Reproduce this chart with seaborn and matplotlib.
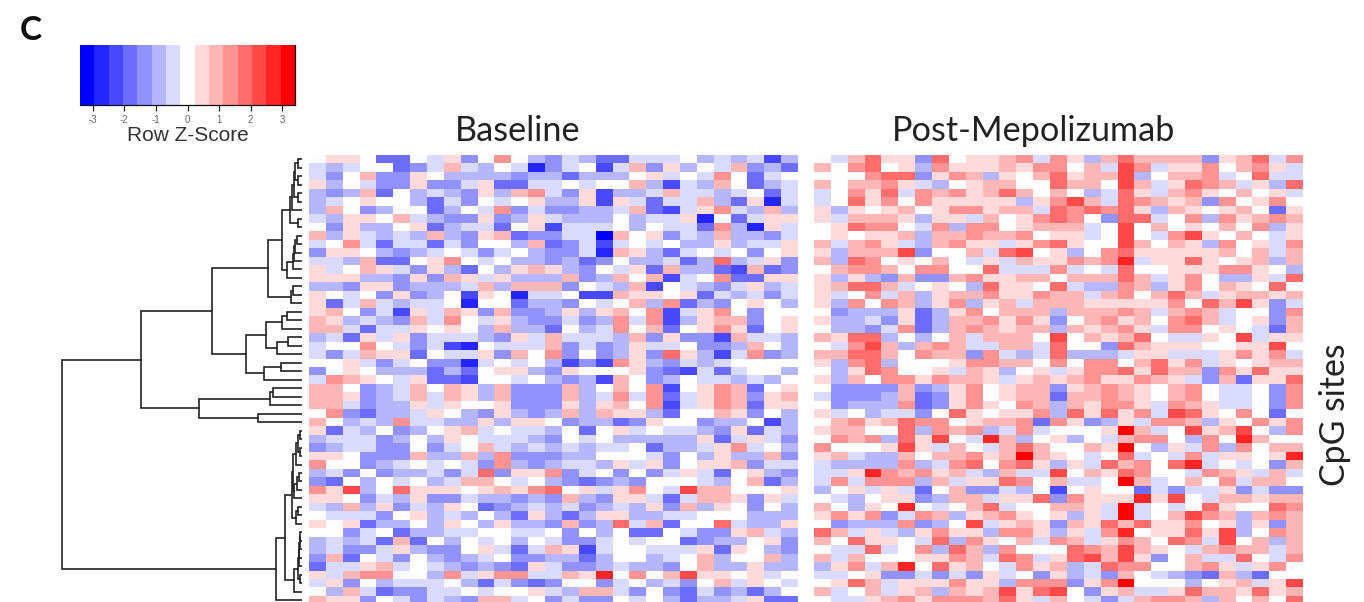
import matplotlib
matplotlib.use('Agg')
import matplotlib.pyplot as plt
import numpy as np
import seaborn as sns

# colour level of each cell, -7 (deep blue) .. 7 (deep red)
baseline_levels = [
    [0,1,1,0,-4,-4,0,-1,1,-3,0,3,0,-2,-3,-1,-2,-4,-4,-1,-1,-1,0,-2,-1,-2,-1,-5,-2],
    [-1,-2,-1,0,0,-4,-3,-1,2,-1,-2,0,-1,-6,-3,-1,0,-5,-1,2,-3,1,-2,0,-1,2,-3,-2,-4],
    [-1,-3,0,2,-3,-3,1,0,-2,-2,-2,-2,-3,-2,-2,-4,-2,-2,-2,0,1,-1,0,-1,3,0,-4,-1,0],
    [1,-2,0,-1,-3,-3,1,-3,-3,-1,1,-4,-4,-1,-1,0,-1,0,0,2,-2,-5,-1,-2,2,0,-4,-2,-1],
    [-2,-3,-2,2,-4,0,-2,-1,-2,-3,1,-2,2,3,-1,-3,1,-5,-2,-2,-1,2,-1,-1,-2,-1,0,-4,-1],
    [-2,-1,0,1,0,0,-2,-4,-1,-3,0,-1,0,1,-2,-2,1,-5,1,-1,-4,-1,-1,2,-2,-4,1,-6,-1],
    [-2,2,0,-3,-2,0,0,-4,-2,0,-1,3,-3,-1,-3,-3,-2,-2,-1,2,-4,-5,-1,1,3,-1,-2,2,-2],
    [-1,-2,1,1,0,2,-1,-2,-3,-3,1,-3,-2,1,-1,-2,-2,-2,0,-2,-1,-1,1,-6,0,-4,-1,1,1],
    [0,-3,1,-2,-2,0,1,-4,-2,-1,-1,-4,0,1,-5,-1,-1,-1,0,-2,0,-1,-1,-4,3,-2,-6,1,-1],
    [2,-2,1,-1,-2,-1,-2,2,-2,-3,1,2,-4,-3,-3,-1,-1,-7,2,0,1,-3,-1,-2,2,-2,-2,-3,-1],
    [-1,0,3,-1,-4,-1,-1,-4,-1,-3,0,0,-2,2,-4,-3,-1,-5,-1,0,-1,0,-2,-2,1,-2,-1,-1,1],
    [-3,1,1,0,-2,-3,-2,-1,0,-1,-3,-1,0,-2,-3,-3,-1,-6,2,1,-2,-4,-1,0,-1,0,-3,0,1],
    [-1,-1,-2,2,-4,-4,0,1,3,0,-1,0,-2,-2,-3,-2,-4,-3,0,-2,-2,-1,-4,-2,4,-2,-1,1,-3],
    [1,-1,0,2,1,-1,-3,1,-2,-4,0,-2,1,2,1,-2,-3,0,-1,1,-4,2,-2,-2,-4,-5,2,-4,-3],
    [1,1,1,-2,-2,-3,1,-3,2,1,-1,1,-2,-2,-2,2,-3,-2,2,0,2,-5,-1,0,3,-4,-4,1,1],
    [-2,-2,-3,1,1,-3,-2,-2,-2,-1,2,-2,2,2,2,-3,0,-1,-2,2,-5,0,-1,-2,-3,-1,1,-2,-1],
    [1,0,-1,0,-3,1,-3,-2,0,-5,1,0,-6,-1,-1,0,-5,-5,2,1,1,0,1,-4,-1,-2,-1,-3,-1],
    [1,-4,-1,2,-1,-2,-1,-1,0,-6,0,0,-4,-2,-2,-3,0,-1,0,2,-2,3,-4,-2,-3,0,1,0,-2],
    [1,2,0,-3,-1,-5,1,-1,2,1,-3,2,-3,-3,-2,1,-2,1,2,0,3,-5,-1,1,3,0,-3,0,0],
    [2,1,-2,-1,-2,-3,2,-1,3,0,-1,1,-2,-3,-3,-1,-3,-2,3,-1,3,-5,-2,1,2,2,-3,0,1],
    [2,2,-1,-4,-1,-1,1,0,1,0,-2,2,-2,-2,-4,0,-2,-1,3,0,2,-4,0,1,3,1,-4,0,1],
    [-2,-1,-4,1,-1,1,-3,-1,-1,-1,-2,-3,1,-1,2,-1,-1,-1,-2,2,-3,1,-3,-3,-5,2,-1,-1,-2],
    [-1,0,0,3,0,-1,-3,-1,-5,-6,0,-1,-1,-1,2,-3,-1,-3,-2,1,-1,-1,0,-3,-3,-2,2,0,-2],
    [-1,-3,-1,2,1,1,-4,0,-1,-1,1,-3,2,0,3,-3,0,-3,-2,1,-3,4,1,-2,-5,-1,3,-3,-2],
    [0,0,1,-1,-3,-1,0,-3,-3,-6,-1,0,-1,0,-2,-5,-3,-5,3,1,-2,-3,-1,-2,-1,0,0,0,0],
    [-3,0,1,0,-2,-2,-2,-4,-2,-4,0,1,1,-2,-3,1,0,0,0,1,-3,-4,-5,-1,-4,-1,0,0,-2],
    [-1,3,2,1,0,-1,1,-4,-4,-5,0,0,-1,0,-2,-3,-2,-5,2,0,-3,-2,0,-1,-1,-2,-1,-2,0],
    [2,2,0,-3,-2,-1,2,0,2,1,-2,2,-3,-3,-3,2,-2,0,2,0,3,-5,0,1,3,2,-4,0,1],
    [2,2,1,-3,-2,-1,2,-1,2,1,-2,2,-3,-3,-3,2,-2,-1,3,-1,3,-4,-1,1,3,2,-3,1,2],
    [2,2,-1,-3,-2,-2,1,-1,1,0,0,1,-3,-3,-3,1,-2,1,2,0,3,-5,-1,1,3,2,-4,1,1],
    [0,3,-3,-4,-2,-2,-1,1,0,-2,-3,1,-2,-3,-2,2,-2,2,1,1,-2,-4,0,0,2,1,-3,0,-2],
    [2,0,-2,-1,-2,3,-1,-1,-2,-2,1,-2,1,1,0,-3,-2,-2,-4,-3,1,0,0,-3,-2,-2,0,-5,-2],
    [1,-4,-1,-2,0,-3,-2,0,1,2,-1,0,-1,-1,-2,0,-4,0,1,-1,0,-1,-1,-2,-3,1,-4,-1,-2],
    [-2,-1,-1,-1,-3,-2,0,-2,1,0,-1,-1,-1,-2,-3,0,-1,0,-2,-2,-2,-2,-2,1,-4,-1,1,-1,-3],
    [-3,-2,-1,-1,-3,-3,0,-3,-1,0,2,-1,-2,-1,-2,-1,-2,-1,-1,0,-4,-2,-2,-1,1,3,-1,0,-2],
    [1,1,0,-3,-3,-3,2,-2,-2,2,-2,3,-3,-3,-3,-2,-2,0,0,0,-1,-3,0,-2,1,-2,-2,2,-3],
    [3,0,0,-3,-2,-1,0,-1,0,-1,-3,3,-2,-3,-2,-1,-1,-2,1,-1,1,-3,0,1,1,2,-3,-1,-1],
    [-2,-1,-3,0,-3,-2,-2,-1,-3,-1,4,-3,1,1,3,-3,-1,0,-3,0,-3,-1,1,-1,-4,0,1,-2,-3],
    [-3,-4,0,-2,0,-1,0,-2,-1,2,2,0,-1,0,-2,-3,-4,-3,-2,-3,0,0,0,-1,-2,0,2,-4,-2],
    [3,1,5,-2,0,4,1,1,1,0,1,2,1,3,4,0,1,-1,1,3,0,-1,5,2,2,0,0,0,1],
    [1,1,0,-3,-1,-2,1,-3,-3,-1,-2,-2,-3,-2,-3,2,-2,-3,1,1,-1,-4,-1,2,2,1,-3,1,-1],
    [-1,-2,2,-2,1,-3,-1,-2,1,0,-4,-3,-2,-1,-2,-1,-3,-2,-1,-2,1,-3,2,-2,1,0,-3,0,-2],
    [0,-1,-1,-1,-3,0,1,-2,-1,-2,0,-2,-4,1,-2,-4,-2,1,1,-2,-2,-1,-1,0,0,0,-2,-2,-2],
    [1,0,1,-4,-2,-2,0,-2,1,0,-2,1,-2,-2,-3,2,-3,-2,4,-1,2,-4,0,0,4,-1,-2,-2,1],
    [0,0,-3,-1,0,-4,-2,-2,-1,-1,0,0,-1,-1,0,-3,0,-2,0,-4,-4,0,-1,-3,-3,1,2,-1,-2],
    [-2,-1,-2,-1,-4,2,-4,0,-2,0,-1,0,-2,0,-1,-3,-3,-1,0,-1,0,0,-4,-3,-2,-2,0,1,-3],
    [-2,-1,-3,-3,-1,1,-2,-3,-3,0,1,-1,-4,-1,2,1,-5,-1,0,0,-1,-1,-1,1,-4,1,0,-2,-3],
    [-3,2,-4,0,-1,-3,0,-2,-3,-2,-1,0,-3,-3,-2,-2,-4,-2,0,0,-2,-1,0,2,-2,0,0,2,-2],
    [-4,-1,-1,1,2,-1,0,-1,-2,-3,-2,-3,-4,1,-1,-3,-3,-2,-1,-2,-2,-3,0,2,-2,-2,1,-2,-2],
    [1,-1,2,3,3,0,0,-2,3,-1,1,3,3,-1,-1,2,1,6,0,3,0,2,5,1,1,0,1,-1,0],
    [-1,1,-3,0,-2,-1,-1,-1,0,-2,-4,-1,-3,-4,-3,0,0,-3,-1,0,-2,-1,-3,0,2,-1,1,0,-1],
    [0,-2,2,-1,-4,-3,-3,-1,-1,0,-1,0,0,1,-1,-2,2,2,-1,-3,0,-3,-4,-1,-3,-2,-4,-2,0],
    [2,1,1,-3,0,-1,-3,-1,-2,-3,2,2,-1,0,-3,-1,-3,-3,0,-1,0,-2,-4,-2,-2,-1,1,-4,-4],
]

post_levels = [
    [0,-1,2,4,1,1,-3,4,0,1,1,2,3,-1,3,1,-2,2,4,2,2,2,2,-3,1,2,4,-1,3],
    [2,0,3,4,0,1,-2,3,1,1,1,2,1,3,3,0,2,-1,5,3,-1,1,1,3,0,2,3,1,-1],
    [0,0,0,3,4,4,-3,1,3,2,-2,1,0,2,4,1,2,2,5,-2,0,2,2,3,-1,0,4,-1,-1],
    [2,0,2,2,3,1,-1,-2,0,1,2,2,0,0,4,2,2,0,5,2,-1,1,4,3,2,-1,1,-2,4],
    [-1,0,3,1,4,-1,3,2,3,1,2,4,2,0,2,0,-2,-1,4,1,-1,2,3,1,0,2,0,1,-1],
    [-1,0,4,1,3,0,3,1,1,1,1,1,-2,1,3,5,2,-1,4,3,2,1,2,-3,3,0,1,3,0],
    [1,-2,1,0,1,2,0,1,3,3,1,2,2,-1,4,3,4,3,4,1,-2,2,1,0,1,2,0,-4,1],
    [1,-1,2,2,2,1,-2,1,1,-1,2,0,1,3,4,3,0,-3,4,4,-1,0,3,-2,3,1,2,3,2],
    [0,1,4,3,3,0,-1,3,-2,3,3,0,1,2,2,2,-1,0,5,0,2,0,1,0,2,0,3,-2,1],
    [0,1,0,1,1,2,-2,2,2,3,2,2,3,0,1,1,-1,0,5,0,-1,3,5,1,0,2,0,-1,1],
    [2,-1,2,3,1,-1,-2,2,3,1,1,-1,1,3,4,1,0,0,5,2,0,2,1,-2,3,0,1,-1,3],
    [1,-2,2,2,2,5,-3,0,0,2,-1,4,5,0,1,-2,0,3,4,1,1,1,1,1,2,0,2,-1,2],
    [2,-2,4,3,0,1,0,2,0,-1,1,-1,2,1,1,3,2,3,6,-1,1,1,4,1,0,1,2,-2,2],
    [0,2,3,3,2,0,3,3,0,0,4,-1,-1,-1,3,-1,0,-1,4,0,0,1,1,1,3,3,1,0,-2],
    [1,-2,1,-2,-3,2,-3,-3,2,3,1,1,2,2,0,2,2,2,4,2,-1,1,3,0,-2,-2,1,-1,4],
    [1,2,4,4,2,-1,0,1,0,-2,4,1,1,0,4,-1,-2,-2,3,2,-2,1,3,0,2,1,0,4,0],
    [1,-1,0,3,-1,2,-2,1,2,2,3,1,1,3,2,2,-1,2,3,0,2,4,2,-1,1,2,2,1,2],
    [1,-2,3,0,3,2,-2,1,3,-2,1,2,-1,2,2,2,1,1,1,1,1,3,0,4,2,5,1,-3,-1],
    [0,-3,-2,-2,-2,1,-4,-2,1,3,0,2,2,2,-2,2,2,2,3,2,-1,2,3,2,-1,0,0,-3,3],
    [1,-2,-2,-1,-3,1,-4,-2,2,2,3,1,3,1,-3,0,2,3,1,2,0,3,4,2,-1,0,1,-3,2],
    [0,-2,-2,-3,-1,3,-4,-2,2,3,2,1,2,2,-2,2,1,2,3,1,-1,3,3,0,1,0,-1,-4,2],
    [2,1,4,4,-2,0,-2,0,2,-1,2,2,2,0,5,0,2,1,2,4,0,-1,-1,1,0,5,-1,1,1],
    [0,-1,3,5,2,-2,2,3,2,-1,-1,2,2,-1,4,0,0,-3,4,2,1,1,1,0,0,1,1,5,0],
    [2,2,4,4,2,0,3,2,2,-3,3,-1,-2,-1,4,-2,-2,-2,-1,1,1,-1,-1,-1,1,3,1,3,-1],
    [1,-2,3,4,-2,0,0,0,1,3,3,2,2,0,3,0,3,3,0,2,4,1,3,-1,1,0,1,2,2],
    [0,-2,1,4,3,0,0,1,-1,2,1,-2,0,1,-1,1,3,3,4,1,4,2,2,-3,3,1,4,1,1],
    [1,-2,2,0,3,3,1,3,2,2,1,-1,1,2,1,2,3,1,1,3,2,1,-1,-3,2,-4,1,1,4],
    [0,-3,-3,-3,-3,2,-3,-2,1,3,0,1,2,2,-3,1,2,3,2,1,0,2,3,0,-1,-1,0,-3,3],
    [-1,-3,-3,-3,-2,2,-4,-3,1,3,0,1,2,2,-4,2,2,3,2,1,0,2,3,0,-1,-1,0,-3,3],
    [0,-3,-2,-2,-2,3,-4,-3,1,3,1,0,3,2,-2,2,1,3,3,1,-1,3,2,1,-1,-1,0,-3,3],
    [1,-1,0,-2,-1,-1,-3,0,4,1,0,1,1,3,-2,4,1,4,1,3,-1,5,4,1,0,3,0,-4,0],
    [0,2,3,1,2,4,3,3,0,1,2,2,3,-4,3,1,-3,-2,1,-1,3,3,2,-2,1,0,3,1,3],
    [1,2,2,0,0,4,-2,3,2,3,-2,-1,3,-1,0,0,0,1,7,2,-1,0,5,1,2,5,0,-2,3],
    [0,3,2,3,-2,4,1,5,0,-1,6,2,-2,0,1,-2,0,-1,2,3,3,0,-2,3,0,6,2,0,0],
    [3,0,0,0,1,5,1,-1,2,0,-1,2,4,2,0,0,2,1,7,0,-2,1,-1,3,-2,3,0,2,2],
    [1,2,-1,-2,-2,2,0,2,2,3,1,2,7,2,1,0,-1,0,4,-1,0,-1,3,-1,1,1,0,1,6],
    [-1,-2,-2,-2,-2,3,-2,-1,3,4,0,3,4,1,-2,1,-1,4,2,3,0,4,6,-1,0,-1,0,-3,2],
    [-1,-1,1,6,3,2,3,1,2,-1,-2,2,-1,-1,5,0,2,1,4,3,0,0,-1,3,2,1,-1,2,-1],
    [-1,3,-1,3,3,3,-2,2,-1,1,1,4,3,0,2,-1,-1,0,7,2,-1,0,2,0,3,-1,2,2,0],
    [-2,0,1,-1,1,-1,-4,0,2,-3,-3,-1,-2,0,-5,0,1,0,0,-4,-1,-3,-1,-1,1,-3,-1,-3,-3],
    [0,-1,-2,0,1,1,-3,-2,2,2,-1,1,1,4,-3,3,1,1,1,6,1,5,0,-1,2,2,1,2,2],
    [2,0,-2,1,0,6,0,-1,0,2,4,-1,0,0,2,2,1,-1,7,-1,0,-1,0,4,1,0,0,4,3],
    [1,3,1,3,-3,-1,3,2,-2,1,2,3,1,0,1,-2,1,-1,7,-1,0,2,5,3,2,-2,2,3,2],
    [0,-3,-2,-2,-2,3,-3,-2,0,5,-1,1,2,1,-3,2,1,4,2,4,1,1,3,0,1,-2,1,-3,2],
    [4,2,-1,1,-1,-2,1,3,1,1,-2,3,3,1,-2,1,-1,3,6,0,1,1,4,1,5,-2,0,3,2],
    [2,0,4,1,1,0,-1,4,-2,3,1,0,2,-1,3,2,-1,1,3,2,0,4,3,-1,5,0,2,-2,2],
    [0,-1,-1,4,-1,0,3,-2,4,2,-2,3,0,0,0,4,3,2,5,2,1,0,-1,2,3,2,2,-1,2],
    [2,-1,2,0,0,0,1,1,3,2,-1,4,3,-1,1,4,5,2,5,1,-3,0,2,-1,-1,4,0,-1,3],
    [-2,1,3,-1,2,6,0,4,1,2,0,-1,3,1,2,-2,-1,4,3,3,0,0,2,3,1,-1,1,3,0],
    [-1,-1,0,1,-3,-3,-1,-3,-1,-3,1,-1,0,-3,1,-2,-1,-3,2,0,-1,-2,-3,-4,2,-2,-4,0,0],
    [0,1,4,2,-1,1,1,1,3,1,1,-2,3,3,3,-3,1,3,7,0,0,0,-2,0,1,2,-1,1,5],
    [2,-1,0,2,-1,1,2,-2,2,1,2,5,1,4,5,0,-3,1,2,-1,-1,1,4,2,2,1,4,1,2],
    [0,-1,-1,1,2,3,1,3,3,3,2,4,1,-1,2,0,-1,-3,-1,2,3,3,2,-2,2,0,2,0,4],
]

# row dendrogram: (merge height, branch, branch), an int is the row a leaf ends in
tree_a = (11.7, (9.7, (8, (6.7, (4, 0, 1), (4, 2, 3)), (4, 4, 5)), 6), (4, 7, 8))
tree_b = (15, (9, (8, (6.7, (5, 9, 10), 11), 12), 13), 14)
tree_c = (10.7, (9, 15, 16), 17)
tree_d = (56, (36, (19.3, (15, 18, 19), 20), (24.3, (13.3, 21, 22), 23)),
          (37.7, (20.7, 24, 25), 26))
tree_e = (102.7, (31.7, (28.3, 27, 28), 29), (43.7, 30, 31))
tree_f = (9, (6, (4, (2, 32, 33), (2, 34, 35)), 36), (8, (5, (3, 37, 38), 39), 40))
tree_g = (7.3, (4, (3, (2.5, (2, (1.5, 44, 45), 46), 47), 48), (1.5, 49, 50)), 51)
row_tree = (240,
            (160.3, (89.3, (33.3, (19.3, tree_a, tree_b), tree_c), tree_d), tree_e),
            (25.7, (16.7, (10, tree_f, (6, (4, 41, 42), 43)), tree_g), 52))

scale_ticks = [-3, -2, -1, 0, 1, 2, 3]
panel_titles = ['Baseline', 'Post-Mepolizumab']

W, H = 1364, 602
ROW_H = 8.48
STEP = 6.8 / 15  # z-score width of one colour level


def px_axes(fig, x0, y0, x1, y1):
    return fig.add_axes([x0 / W, 1 - y1 / H, (x1 - x0) / W, (y1 - y0) / H])


def draw_tree(ax, node):
    if isinstance(node, int):
        return node + 0.5, 0
    h, a, b = node
    ya, ha = draw_tree(ax, a)
    yb, hb = draw_tree(ax, b)
    ax.plot([ha, h, h, hb], [ya, ya, yb, yb], color='#222222', lw=1.2,
            solid_joinstyle='miter')
    return (ya + yb) / 2, h


sns.set_theme(style='white')
plt.rcParams['font.family'] = ['Lato', 'DejaVu Sans']
plt.rcParams['axes.unicode_minus'] = False

cmap = matplotlib.colors.ListedColormap(
    sns.blend_palette(['#0000ff', '#ffffff', '#ff0000'], 15))

fig = plt.figure(figsize=(W / 100, H / 100), dpi=100)
bottom = 155 + ROW_H * len(baseline_levels)

ax_base = px_axes(fig, 309, 155, 798, bottom)
ax_post = px_axes(fig, 814, 155, 1303, bottom)
ax_key = px_axes(fig, 80, 45, 295, 105)

sns.heatmap(np.array(baseline_levels) * STEP, ax=ax_base, cmap=cmap, vmin=-3.4, vmax=3.4,
            xticklabels=False, yticklabels=False, cbar_ax=ax_key,
            cbar_kws={'orientation': 'horizontal', 'ticks': scale_ticks})
sns.heatmap(np.array(post_levels) * STEP, ax=ax_post, cmap=cmap, vmin=-3.4, vmax=3.4,
            xticklabels=False, yticklabels=False, cbar=False)

for ax, title, tx in zip([ax_base, ax_post], panel_titles, [0.427, 0.448]):
    ax.set_title(title, fontsize=24.7, color='#222222', x=tx, y=1.031, ha='center', pad=0)

# colour key
ax_base.collections[0].colorbar.outline.set_visible(False)
ax_key.tick_params(axis='x', length=4, width=0.9, color='#222222', bottom=True,
                   labelsize=7, labelcolor='#666666', pad=3, labelfontfamily='Liberation Sans')
ax_key.set_xlabel('Row Z-Score', fontsize=15, family='Liberation Sans', color='#333333',
                  labelpad=1)
for side, spine in ax_key.spines.items():
    spine.set_visible(side in ('bottom', 'right'))
    spine.set_color('#111111')
    spine.set_linewidth(0.9)

# dendrogram
ax_tree = px_axes(fig, 0, 155, 301.5, bottom)
draw_tree(ax_tree, row_tree)
ax_tree.set_xlim(301.5, 0)
ax_tree.set_ylim(len(baseline_levels), 0)
ax_tree.axis('off')

fig.text(31 / W, 1 - 30 / H, 'C', fontsize=24, fontweight='bold', color='#111111',
         ha='center', va='center')
fig.text(1335 / W, 1 - 415 / H, 'CpG sites', fontsize=24.4, color='#222222', rotation=90,
         ha='center', va='center')

fig.savefig('out.png', dpi=100)
